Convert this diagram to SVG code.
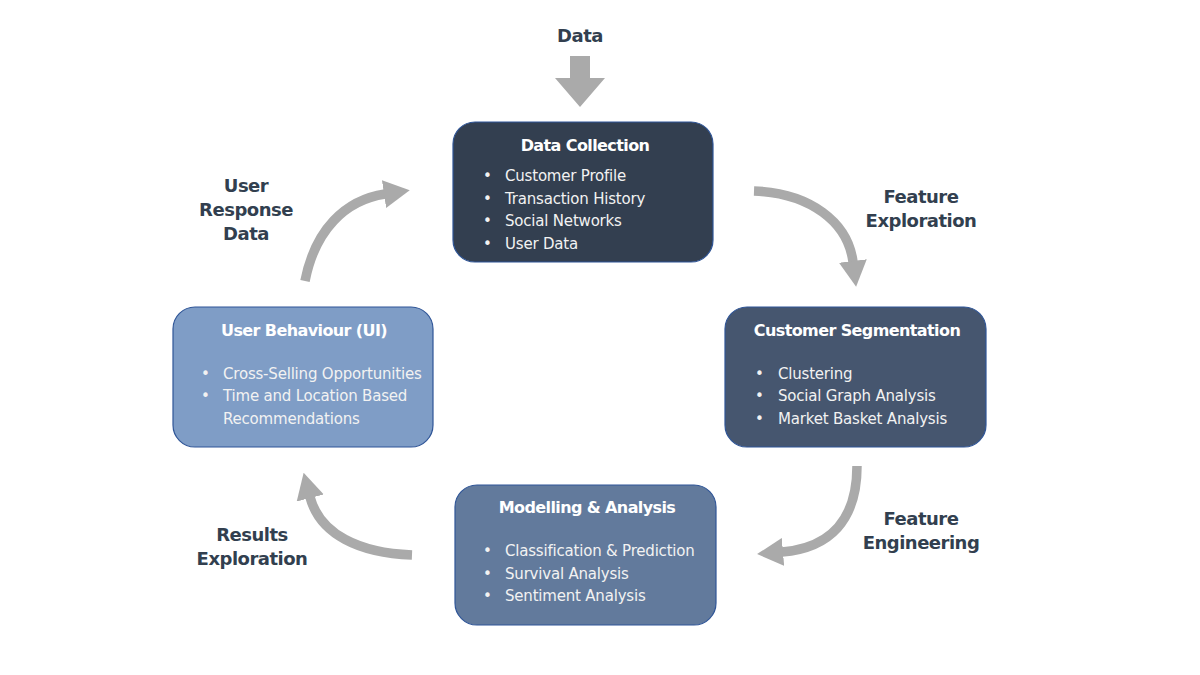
<svg xmlns="http://www.w3.org/2000/svg" width="1200" height="675" viewBox="0 0 1200 675">
<defs>
<style>
.box{stroke:#2f5597;stroke-width:1.2}
.title{font-family:"DejaVu Sans",Verdana,sans-serif;font-weight:bold;font-size:16px;fill:#ffffff;text-anchor:middle;letter-spacing:-0.6px}
.item{font-family:"DejaVu Sans",Verdana,sans-serif;font-size:15px;fill:#f2f2f2;letter-spacing:-0.2px}
.lbl{font-family:"DejaVu Sans",Verdana,sans-serif;font-weight:bold;font-size:18px;fill:#323f4f;text-anchor:middle;letter-spacing:-0.5px}
.conn{fill:none;stroke:#aaaaaa;stroke-width:9.5}
</style>
<marker id="head" viewBox="0 0 26 28" refX="1" refY="14" markerWidth="26" markerHeight="28" markerUnits="userSpaceOnUse" orient="auto">
<polygon points="0,0 26,14 0,28" fill="#aaaaaa"/>
</marker>
</defs>
<rect width="1200" height="675" fill="#ffffff"/>

<g id="connectors">
<polygon points="570,56 590,56 590,78 605,78 580,107 555,78 570,78" fill="#aaaaaa"/>
<path class="conn" d="M754,191 C810,193 848,222 853,262" marker-end="url(#head)"/>
<path class="conn" d="M857,466 C857,520 830,548 782,552" marker-end="url(#head)"/>
<path class="conn" d="M412,555 C360,553 320,535 310,497" marker-end="url(#head)"/>
<path class="conn" d="M305,281 C315,230 345,200 385,194" marker-end="url(#head)"/>
</g>

<g id="labels">
<text class="lbl" x="580" y="42">Data</text>
<text class="lbl" x="921" y="203">Feature</text>
<text class="lbl" x="921" y="227">Exploration</text>
<text class="lbl" x="246" y="192">User</text>
<text class="lbl" x="246" y="216">Response</text>
<text class="lbl" x="246" y="240">Data</text>
<text class="lbl" x="921" y="525">Feature</text>
<text class="lbl" x="921" y="549">Engineering</text>
<text class="lbl" x="252" y="541">Results</text>
<text class="lbl" x="252" y="565">Exploration</text>
</g>

<g id="data-collection">
<rect class="box" x="453" y="122" width="260" height="140" rx="22" fill="#333f50"/>
<text class="title" x="585" y="151">Data Collection</text>
<text class="item" x="483" y="181">•</text><text class="item" x="505" y="181">Customer Profile</text>
<text class="item" x="483" y="204">•</text><text class="item" x="505" y="204">Transaction History</text>
<text class="item" x="483" y="226">•</text><text class="item" x="505" y="226">Social Networks</text>
<text class="item" x="483" y="249">•</text><text class="item" x="505" y="249">User Data</text>
</g>

<g id="customer-segmentation">
<rect class="box" x="725" y="307" width="261" height="140" rx="22" fill="#46566f"/>
<text class="title" x="857" y="336">Customer Segmentation</text>
<text class="item" x="755" y="379">•</text><text class="item" x="778" y="379">Clustering</text>
<text class="item" x="755" y="401">•</text><text class="item" x="778" y="401">Social Graph Analysis</text>
<text class="item" x="755" y="424">•</text><text class="item" x="778" y="424">Market Basket Analysis</text>
</g>

<g id="modelling-analysis">
<rect class="box" x="455" y="485" width="261" height="140" rx="22" fill="#627a9c"/>
<text class="title" x="587" y="513">Modelling &amp; Analysis</text>
<text class="item" x="483" y="556">•</text><text class="item" x="505" y="556">Classification &amp; Prediction</text>
<text class="item" x="483" y="579">•</text><text class="item" x="505" y="579">Survival Analysis</text>
<text class="item" x="483" y="601">•</text><text class="item" x="505" y="601">Sentiment Analysis</text>
</g>

<g id="user-behaviour">
<rect class="box" x="173" y="307" width="260" height="140" rx="22" fill="#7f9dc6"/>
<text class="title" x="304" y="336">User Behaviour (UI)</text>
<text class="item" x="201" y="379">•</text><text class="item" x="223" y="379">Cross-Selling Opportunities</text>
<text class="item" x="201" y="401">•</text><text class="item" x="223" y="401">Time and Location Based</text>
<text class="item" x="223" y="424">Recommendations</text>
</g>
</svg>
